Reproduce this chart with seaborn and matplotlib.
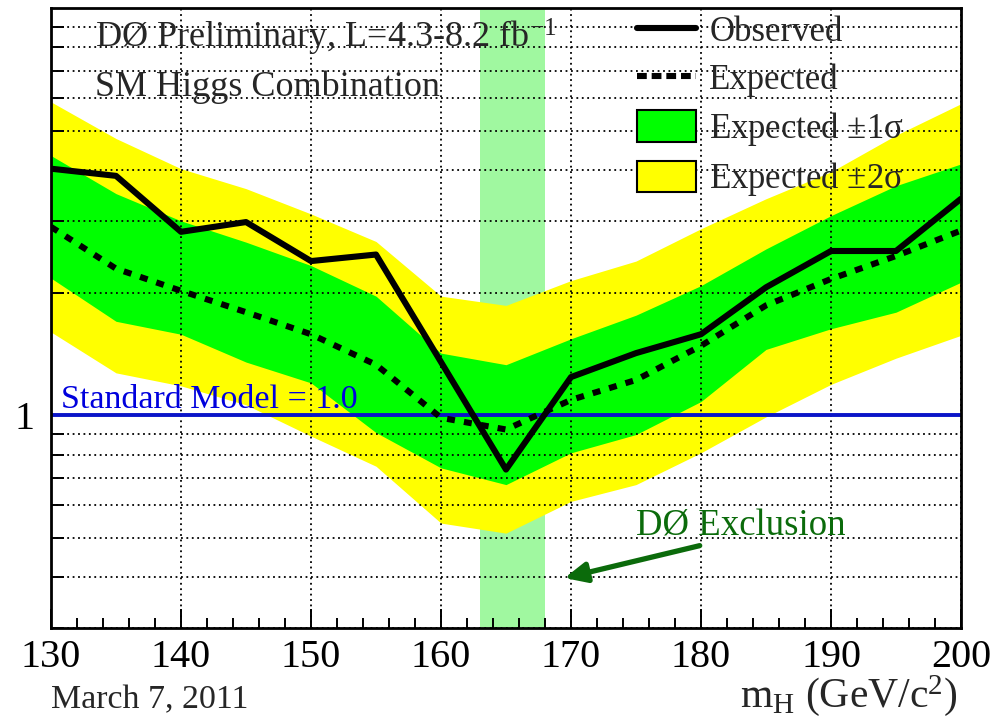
import numpy as np
import pandas as pd
import matplotlib
matplotlib.use("Agg")
import matplotlib.pyplot as plt
import seaborn as sns
from matplotlib.ticker import FixedLocator, MultipleLocator, NullFormatter
from matplotlib.patches import Patch
from matplotlib.lines import Line2D

# values
mass = [130, 135, 140, 145, 150, 155, 160, 165, 170, 175, 180, 185, 190, 195, 200]
observed = [4.03, 3.87, 2.82, 2.98, 2.39, 2.48, 1.35, 0.735, 1.24, 1.42, 1.58, 2.06, 2.53, 2.53, 3.40]
expected = [2.90, 2.29, 2.02, 1.79, 1.58, 1.33, 0.985, 0.922, 1.09, 1.22, 1.48, 1.86, 2.16, 2.46, 2.84]
plus1 = [4.34, 3.50, 3.00, 2.66, 2.33, 1.96, 1.42, 1.33, 1.54, 1.76, 2.08, 2.56, 3.09, 3.66, 4.14]
minus1 = [2.17, 1.70, 1.58, 1.35, 1.20, 0.906, 0.742, 0.675, 0.808, 0.896, 1.08, 1.45, 1.63, 1.79, 2.12]
plus2 = [5.88, 4.78, 4.03, 3.60, 3.12, 2.67, 1.96, 1.86, 2.14, 2.39, 2.87, 3.40, 3.96, 4.87, 5.82]
minus2 = [1.60, 1.27, 1.18, 1.06, 0.888, 0.749, 0.543, 0.513, 0.614, 0.675, 0.808, 0.99, 1.19, 1.38, 1.57]
excl_lo, excl_hi = 163, 168
sm_value = 1.0
arrow_tail = (179.9, 0.478)
arrow_head = (169.5, 0.398)

df = pd.DataFrame({"mass": mass, "observed": observed, "expected": expected,
                   "plus1": plus1, "minus1": minus1, "plus2": plus2, "minus2": minus2})

sns.set_style("ticks")
plt.rcParams['font.family'] = ['Liberation Serif', 'DejaVu Serif']
plt.rcParams['mathtext.fontset'] = 'custom'
plt.rcParams['mathtext.rm'] = 'Liberation Serif'
plt.rcParams['mathtext.it'] = 'Liberation Serif:italic'

W, H = 993, 726
fig = plt.figure(figsize=(W / 100, H / 100), dpi=100)
ax = fig.add_axes([51 / W, 1 - 628 / H, 910 / W, 620 / H])

GREEN = '#00ff00'
YELLOW = '#ffff00'
DASH = (0, (1.3, 1.5))

ax.axvspan(excl_lo, excl_hi, color='#a0f8a0', lw=0, zorder=0.8)
ax.fill_between(df["mass"], df["minus2"], df["plus2"], color=YELLOW, lw=0, zorder=1)
ax.fill_between(df["mass"], df["minus1"], df["plus1"], color=GREEN, lw=0, zorder=2)
ax.axhline(sm_value, color='#0a14c8', lw=2.8, zorder=4)

sns.lineplot(data=df, x="mass", y="expected", ax=ax, color='k', lw=4.4,
             linestyle=DASH, zorder=5)
sns.lineplot(data=df, x="mass", y="observed", ax=ax, color='k', lw=4.4, zorder=6)

ax.set_yscale('log')
ax.set_xlim(130, 200)
ax.set_ylim(0.3, 10)

ax.yaxis.set_major_locator(FixedLocator([1]))
ax.yaxis.set_minor_locator(FixedLocator([0.3, 0.4, 0.5, 0.6, 0.7, 0.8, 0.9,
                                         2, 3, 4, 5, 6, 7, 8, 9]))
ax.yaxis.set_major_formatter(matplotlib.ticker.FixedFormatter(['1']))
ax.yaxis.set_minor_formatter(NullFormatter())
ax.xaxis.set_major_locator(MultipleLocator(10))
ax.xaxis.set_minor_locator(MultipleLocator(2))

ax.tick_params(axis='both', which='both', direction='in', top=False, right=False,
               width=1.4, colors='k', labelsize=29)
ax.tick_params(axis='x', which='major', length=14, pad=8)
ax.tick_params(axis='x', which='minor', length=7)
ax.tick_params(axis='y', which='major', length=14, pad=12)
ax.tick_params(axis='y', which='minor', length=9)

ax.set_axisbelow(False)
ax.grid(axis='x', which='major', color='k', lw=1.3, linestyle=(0, (1, 2)))
ax.grid(axis='y', which='both', color='k', lw=1.3, linestyle=(0, (1, 2)))

for s in ax.spines.values():
    s.set_linewidth(2)
    s.set_color('k')
    s.set_zorder(7)

ax.set_xlabel('')
ax.set_ylabel('')

def ftext(x, y, s, **kw):
    fig.text(x / W, 1 - y / H, s, va='baseline', **kw)

ftext(95, 48, r'DØ Preliminary, L=4.3-8.2 fb$^{-1}$', fontsize=26)
ftext(95, 96, 'SM Higgs Combination', fontsize=26)
ftext(61, 408, 'Standard Model = 1.0', fontsize=24.5, color='#0000dd')
ftext(636, 536, 'DØ Exclusion', fontsize=26.5, color='#0b6b0b')
ftext(51, 708, 'March 7, 2011', fontsize=24.4)
ftext(957, 707, r'm$_{\rm H}$ (GeV/c$^{2}$)', fontsize=30, ha='right')

ax.annotate('', xy=arrow_head, xytext=arrow_tail,
            arrowprops=dict(arrowstyle='-|>,head_length=1.3,head_width=0.6',
                            color='#0b6b0b', lw=3.8, shrinkA=0, shrinkB=0),
            zorder=8)

handles = [Line2D([], [], color='k', lw=4.4),
           Line2D([], [], color='k', lw=4.4, linestyle=(0, (1.6, 0.8))),
           Patch(facecolor=GREEN, edgecolor='k', lw=1.5),
           Patch(facecolor=YELLOW, edgecolor='k', lw=1.5)]
labels = ['Observed', 'Expected', r'Expected $\pm$1σ', r'Expected $\pm$2σ']
leg = ax.legend(handles, labels, loc='upper left', bbox_to_anchor=(637 / W, 1 - 14 / H),
                bbox_transform=fig.transFigure, frameon=False, fontsize=25,
                handlelength=1.7, handleheight=1.0, handletextpad=0.38,
                labelspacing=0.36, borderpad=0, borderaxespad=0)
leg.set_zorder(9)

fig.savefig('out.png', dpi=100)
